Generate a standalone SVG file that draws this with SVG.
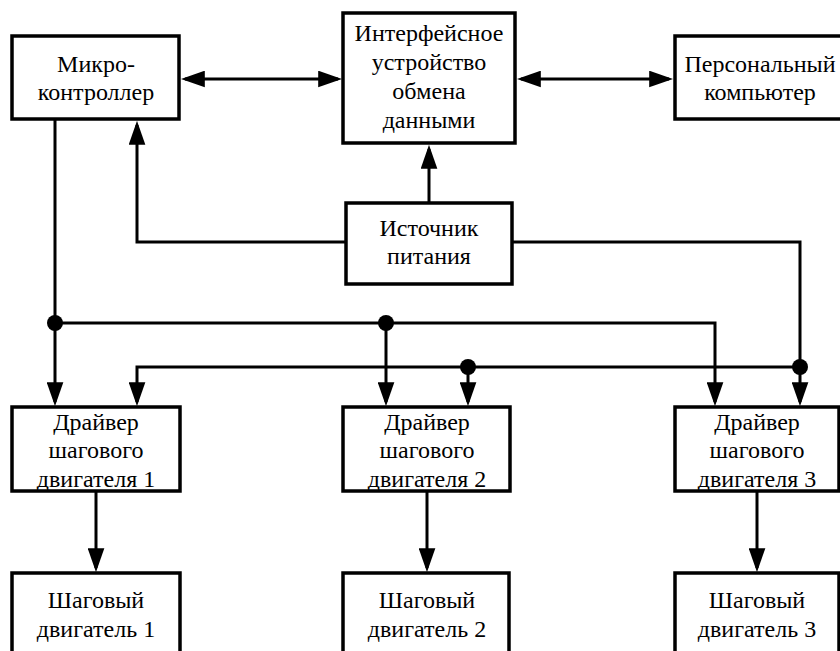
<svg xmlns="http://www.w3.org/2000/svg" width="840" height="651" viewBox="0 0 840 651">
<defs>
<style>
.box{fill:#fff;stroke:#000;stroke-width:3.5}
.ln{fill:none;stroke:#000;stroke-width:3}
.arr{marker-end:url(#ah)}
.bi{marker-start:url(#ah);marker-end:url(#ah)}
.t{font-family:'Liberation Serif','DejaVu Serif',serif;font-size:24px;fill:#000;text-anchor:middle}
</style>
<marker id="ah" markerUnits="userSpaceOnUse" markerWidth="24" markerHeight="17" viewBox="0 0 23 16" refX="19" refY="8" orient="auto-start-reverse">
<path d="M0,0 L23,8 L0,16 z" fill="#000"/>
</marker>
</defs>
<rect width="840" height="651" fill="#fff"/>
<g id="connectors">
<path class="ln bi" d="M185,79 H338"/>
<path class="ln bi" d="M521,79 H669"/>
<path class="ln arr" d="M346,242 H137 V125"/>
<path class="ln arr" d="M429,203 V149"/>
<path class="ln arr" d="M512,242 H800 V402"/>
<path class="ln arr" d="M55,119 V402"/>
<path class="ln arr" d="M55,323 H715 V402"/>
<path class="ln arr" d="M386,323 V402"/>
<path class="ln arr" d="M800,367 H137 V402"/>
<path class="ln arr" d="M468,367 V402"/>
<path class="ln arr" d="M96,491 V568"/>
<path class="ln arr" d="M427,491 V568"/>
<path class="ln arr" d="M757,491 V568"/>
<circle cx="55" cy="323" r="8"/>
<circle cx="386" cy="323" r="8"/>
<circle cx="468" cy="367" r="8"/>
<circle cx="800" cy="367" r="8"/>
</g>
<g class="t" font-family="Liberation Serif, serif">
<g id="mcu">
<rect class="box" x="12" y="36" width="167" height="83"/>
<text x="96" y="72">Микро-</text>
<text x="96" y="100">контроллер</text>
</g>
<g id="interface">
<rect class="box" x="343" y="13" width="172" height="130"/>
<text x="429" y="41">Интерфейсное</text>
<text x="429" y="70">устройство</text>
<text x="429" y="99">обмена</text>
<text x="429" y="128">данными</text>
</g>
<g id="pc">
<rect class="box" x="675" y="36" width="170" height="83"/>
<text x="760" y="72">Персональный</text>
<text x="760" y="100">компьютер</text>
</g>
<g id="power">
<rect class="box" x="346" y="203" width="166" height="81"/>
<text x="429" y="236">Источник</text>
<text x="429" y="264">питания</text>
</g>
<g id="driver1">
<rect class="box" x="12" y="407" width="168" height="84"/>
<text x="96" y="430">Драйвер</text>
<text x="96" y="458">шагового</text>
<text x="96" y="487">двигателя 1</text>
</g>
<g id="driver2">
<rect class="box" x="343" y="407" width="167" height="84"/>
<text x="427" y="430">Драйвер</text>
<text x="427" y="458">шагового</text>
<text x="427" y="487">двигателя 2</text>
</g>
<g id="driver3">
<rect class="box" x="675" y="407" width="164" height="84"/>
<text x="757" y="430">Драйвер</text>
<text x="757" y="458">шагового</text>
<text x="757" y="487">двигателя 3</text>
</g>
<g id="motor1">
<rect class="box" x="12" y="573" width="168" height="90"/>
<text x="96" y="608">Шаговый</text>
<text x="96" y="637">двигатель 1</text>
</g>
<g id="motor2">
<rect class="box" x="343" y="573" width="166" height="90"/>
<text x="427" y="608">Шаговый</text>
<text x="427" y="637">двигатель 2</text>
</g>
<g id="motor3">
<rect class="box" x="675" y="573" width="164" height="90"/>
<text x="757" y="608">Шаговый</text>
<text x="757" y="637">двигатель 3</text>
</g>
</g>
</svg>
